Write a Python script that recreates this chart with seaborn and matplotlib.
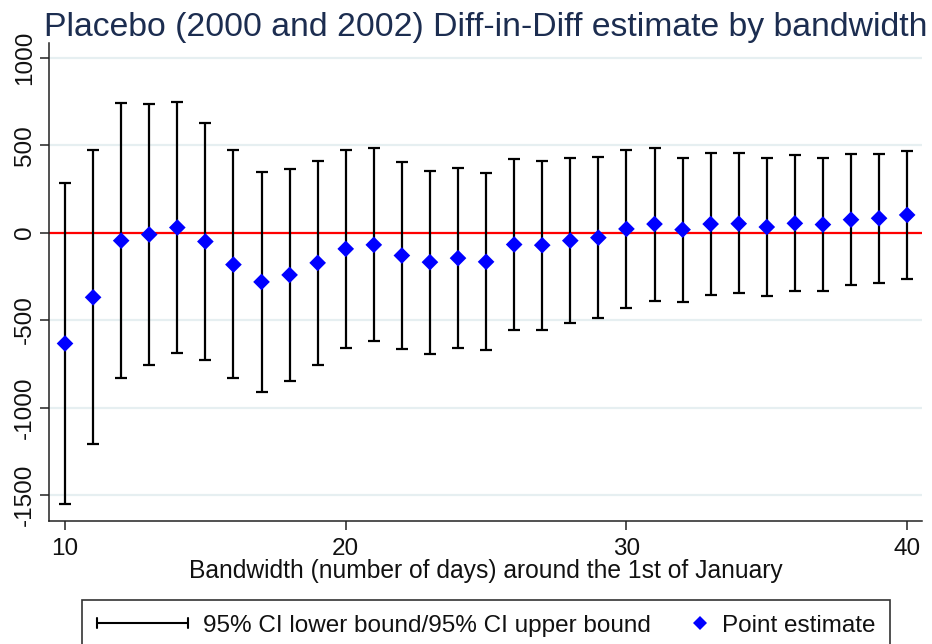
import matplotlib
matplotlib.use("Agg")
import matplotlib.pyplot as plt
from matplotlib.lines import Line2D
from matplotlib.legend_handler import HandlerBase
import numpy as np
import pandas as pd
import seaborn as sns

# ---------------- data ----------------
bandwidth = [10, 11, 12, 13, 14, 15, 16, 17, 18, 19, 20, 21, 22, 23, 24, 25,
             26, 27, 28, 29, 30, 31, 32, 33, 34, 35, 36, 37, 38, 39, 40]
point_estimate = [-634, -370, -46, -11, 29, -51, -183, -282, -242, -173, -93,
                  -70, -131, -169, -146, -167, -68, -72, -46, -29, 21, 49, 17,
                  49, 51, 32, 53, 46, 74, 82, 101]
ci_upper = [284, 470, 739, 733, 747, 627, 472, 349, 362, 410, 475, 483, 403,
            354, 369, 338, 422, 411, 426, 433, 473, 485, 428, 454, 454, 426,
            445, 428, 451, 452, 464]
ci_lower = [-1554, -1208, -829, -756, -686, -728, -834, -909, -846, -758, -662,
            -620, -665, -692, -662, -671, -557, -555, -517, -490, -432, -390,
            -397, -355, -348, -361, -335, -336, -302, -287, -264]
x_ticks = [10, 20, 30, 40]
y_ticks = [1000, 500, 0, -500, -1000, -1500]
y_tick_labels = ["1000", "500", "0", "-500", "-1000", "-1500"]

title = "Placebo (2000 and 2002) Diff-in-Diff estimate by bandwidth"
x_label = "Bandwidth (number of days) around the 1st of January"
legend_labels = ["95% CI lower bound/95% CI upper bound", "Point estimate"]

df = pd.DataFrame({"bandwidth": bandwidth, "est": point_estimate,
                   "lo": ci_lower, "hi": ci_upper})

# ---------------- style ----------------
sns.set_theme(style="white")
plt.rcParams["font.family"] = ["Liberation Sans", "DejaVu Sans"]

TEXT = "#111111"
NAVY = "#1c2d50"
BLUE = "#0000ff"
GRID = "#e6eff1"
SPINE = "#222222"

fig = plt.figure(figsize=(9.32, 6.44), dpi=100)
ax = fig.add_axes([0.0526, 0.1915, 0.9367, 0.7417])

# grid + zero line
ax.set_yticks(y_ticks)
ax.yaxis.grid(True, color=GRID, lw=1.6, zorder=0)
ax.xaxis.grid(False)
ax.axhline(0, color="#ff0000", lw=1.6, zorder=1)

# CI bars
ax.errorbar(df["bandwidth"], df["est"],
            yerr=[df["est"] - df["lo"], df["hi"] - df["est"]],
            fmt="none", ecolor="black", elinewidth=1.6, capsize=4.3,
            capthick=1.6, zorder=2)

# point estimates
sns.scatterplot(data=df, x="bandwidth", y="est", marker="D", s=72,
                color=BLUE, edgecolor="none", linewidth=0, zorder=3,
                ax=ax, legend=False)

ax.set_xlim(9.43, 40.53)
ax.set_ylim(-1647, 1084)
ax.set_xticks(x_ticks)
ax.set_xticklabels([str(v) for v in x_ticks], fontsize=17.5, color=TEXT)
ax.set_yticklabels(y_tick_labels, fontsize=17.5, color=TEXT, rotation=90,
                   va="center")
ax.tick_params(axis="both", direction="out", length=6.5, width=1.1,
               color=SPINE, bottom=True, left=True)
ax.tick_params(axis="x", pad=6)
ax.tick_params(axis="y", pad=3)

for side in ["top", "right"]:
    ax.spines[side].set_visible(False)
for side in ["left", "bottom"]:
    ax.spines[side].set_color(SPINE)
    ax.spines[side].set_linewidth(1.1)

ax.set_xlabel(x_label, fontsize=17.7, color=TEXT, labelpad=-1)
ax.set_ylabel("")
ax.set_title(title, fontsize=24.3, color=NAVY, pad=5)


# ---------------- legend ----------------
class CIProxy:
    pass


class PtProxy:
    pass


class CIHandler(HandlerBase):
    def create_artists(self, legend, orig_handle, xdescent, ydescent, width,
                       height, fontsize, trans):
        y = height / 2 - ydescent
        x0 = -xdescent
        x1 = -xdescent + width
        cap = 3.4
        arts = [Line2D([x0, x1], [y, y], color="black", lw=1.5),
                Line2D([x0, x0], [y - cap, y + cap], color="black", lw=1.5),
                Line2D([x1, x1], [y - cap, y + cap], color="black", lw=1.5)]
        for a in arts:
            a.set_transform(trans)
        return arts


class PtHandler(HandlerBase):
    def create_artists(self, legend, orig_handle, xdescent, ydescent, width,
                       height, fontsize, trans):
        y = height / 2 - ydescent
        x = -xdescent + width - 5
        m = Line2D([x], [y], marker="D", ms=7.2, color=BLUE, ls="none",
                   markeredgewidth=0)
        m.set_transform(trans)
        return [m]


leg = fig.legend([CIProxy(), PtProxy()], legend_labels,
                 handler_map={CIProxy: CIHandler(), PtProxy: PtHandler()},
                 loc="upper center", bbox_to_anchor=(486 / 932, 1 - 600 / 644),
                 ncol=2, fontsize=17.5, handlelength=3.74, handletextpad=0.62,
                 columnspacing=-1.44, borderpad=0.6, borderaxespad=0,
                 fancybox=False, frameon=True, framealpha=1,
                 edgecolor="#333333", facecolor="white")
leg.get_frame().set_linewidth(1.2)
for t in leg.get_texts():
    t.set_color(TEXT)

fig.savefig("out.png", dpi=100)
